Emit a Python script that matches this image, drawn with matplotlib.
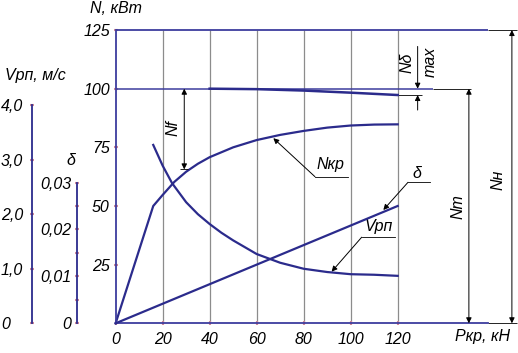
import numpy as np
import matplotlib.pyplot as plt

# Traction characteristic, values
# drawbar power N_kr, kW
p_kp = [0, 16, 20, 25, 30, 35, 40, 50, 60, 70, 80, 90, 100, 110, 120]
n_kp = [0, 50.0, 54.7, 60.3, 64.6, 68.0, 70.8, 75.0, 78.1, 80.3, 82.0, 83.4, 84.3, 84.7, 84.8]

# working speed V_rp, m/s
p_v = [16, 20, 24, 30, 35, 40, 45, 50, 60, 70, 80, 90, 100, 110, 120]
v_rp = [3.27, 2.89, 2.57, 2.22, 2.00, 1.82, 1.66, 1.52, 1.27, 1.11, 1.00, 0.94, 0.90, 0.89, 0.87]

# slip
p_d = [0, 120]
delta = [0, 0.025]

# engine power at the drive, kW
p_t = [40, 60, 80, 100, 120]
n_t = [100, 99.8, 99.2, 98.3, 97.3]

x_ticks = [0, 20, 40, 60, 80, 100, 120]
n_ticks = [25, 50, 75, 100, 125]
v_ticks = [0, 1, 2, 3, 4]
v_labels = ['0', '1,0', '2,0', '3,0', '4,0']
d_ticks = [0, 0.01, 0.02, 0.03]
d_labels = ['0', '0,01', '0,02', '0,03']
d_minor = [0.005, 0.015, 0.025]

n_nom = 125
n_max = 100

v_scale = 23.25   # N units per 1 m/s on the sheet
d_scale = 2000    # N units per unit of slip

plt.rcParams['font.family'] = ['Liberation Sans Narrow', 'Liberation Sans', 'DejaVu Sans']
plt.rcParams['font.style'] = 'italic'
plt.rcParams['font.size'] = 11.5

navy = '#2b2b8c'
axc = '#3d3d9e'
grey = '#8c8c8c'
tick_c = '#d08a9a'

fig = plt.figure(figsize=(5.18, 3.53), dpi=100)
ax = fig.add_axes([0, 0, 1, 1])
xlim = (-49.2, 171.2)
ylim = (-12.66, 137.8)
ax.set_xlim(xlim)
ax.set_ylim(ylim)
ax.patch.set_visible(False)

for s in ['top', 'right']:
    ax.spines[s].set_visible(False)
ax.spines['left'].set_position(('data', 0))
ax.spines['left'].set_bounds(0, n_nom)
ax.spines['bottom'].set_position(('data', 0))
ax.spines['bottom'].set_bounds(0, 158.4)
for s in ['left', 'bottom']:
    ax.spines[s].set_color(axc)
    ax.spines[s].set_linewidth(1.3)

ax.set_xticks(x_ticks)
ax.set_xticklabels([str(x) for x in x_ticks])
ax.set_yticks(n_ticks)
ax.set_yticklabels([str(n) for n in n_ticks])
ax.tick_params(axis='both', length=2.5, width=1.5, color=tick_c, direction='inout')
ax.tick_params(axis='x', pad=5)
ax.tick_params(axis='y', pad=3)

# speed scale
ax_v = ax.twinx()
ax_v.set_ylim(ylim[0] / v_scale, ylim[1] / v_scale)
for s in ['top', 'right', 'bottom']:
    ax_v.spines[s].set_visible(False)
ax_v.spines['left'].set_position(('data', -35.6))
ax_v.spines['left'].set_bounds(0, 4)
ax_v.spines['left'].set_color(navy)
ax_v.spines['left'].set_linewidth(1.3)
ax_v.yaxis.tick_left()
ax_v.set_yticks(v_ticks)
ax_v.set_yticklabels(v_labels)
ax_v.tick_params(axis='y', length=2.5, width=1.5, color=tick_c, direction='inout', pad=21)
plt.setp(ax_v.get_yticklabels(), ha='left')

# slip scale
ax_d = ax.twinx()
ax_d.set_ylim(ylim[0] / d_scale, ylim[1] / d_scale)
for s in ['top', 'right', 'bottom']:
    ax_d.spines[s].set_visible(False)
ax_d.spines['left'].set_position(('data', -16.5))
ax_d.spines['left'].set_bounds(0, 0.03)
ax_d.spines['left'].set_color(navy)
ax_d.spines['left'].set_linewidth(1.3)
ax_d.yaxis.tick_left()
ax_d.set_yticks(d_ticks)
ax_d.set_yticklabels(d_labels)
ax_d.set_yticks(d_minor, minor=True)
ax_d.tick_params(axis='y', which='both', length=2.5, width=1.5, color=tick_c, direction='inout', pad=3)

# grid and frame lines
ax.vlines(x_ticks[1:], 0, n_nom, color=grey, lw=0.9, zorder=1)
ax.hlines(n_nom, 0, 158.4, color=axc, lw=1.3)
ax.hlines(n_nom, 158.4, 170.6, color='k', lw=0.6)
ax.hlines(n_max, 0, 135, color=axc, lw=1.1)
ax.hlines(n_max, 135, 151.2, color='k', lw=0.6)
ax.hlines(0, 158.4, 170.6, color='k', lw=0.6)
ax.hlines(n_t[-1], p_t[-1], 130.2, color='k', lw=0.6)

# curves
ax.plot(p_kp, n_kp, color=navy, lw=1.6)
ax.plot(p_t, n_t, color=navy, lw=1.8)
ax_v.plot(p_v, v_rp, color=navy, lw=1.6)
ax_d.plot(p_d, delta, color=navy, lw=1.6)

arr = dict(color='k', lw=0.7, mutation_scale=8, shrinkA=0, shrinkB=0)

def dim(x, y0, y1, style='<|-|>'):
    ax.annotate('', xy=(x, y1), xytext=(x, y0), arrowprops=dict(arrowstyle=style, **arr))

dim(150.3, 0, n_max)
dim(168.6, 0, n_nom)
dim(29.2, n_max, 65.6)
ax.hlines(65.6, 27.4, 30.8, color='k', lw=0.6)
dim(128.5, 118, n_max, '-|>')
dim(128.5, 90.9, n_t[-1], '-|>')

ax.text(24.4, 83.2, 'Nf', rotation=90, ha='center', va='center')
ax.text(145.8, 49.7, 'Nт', rotation=90, ha='center', va='center')
ax.text(162.7, 61.1, 'Nн', rotation=90, ha='center', va='center')
ax.text(124.1, 111, 'Nδ', rotation=90, ha='center', va='center')
ax.text(133.7, 111.5, 'max', rotation=90, ha='center', va='center')

# leaders
def leader(tip, start, end_x, label, lab_xy):
    ax.annotate('', xy=tip, xytext=start, arrowprops=dict(arrowstyle='-|>', **arr))
    ax.plot([start[0], end_x], [start[1], start[1]], color='k', lw=0.6)
    ax.text(lab_xy[0], lab_xy[1], label, ha='center', va='center')

leader((67.1, 78.9), (84.8, 62.5), 98.8, 'Nкр', (91.4, 67.5))
leader((113.9, 48.3), (124.4, 60.1), 133.8, 'δ', (128.0, 63.9))
leader((91.9, 22.0), (104.7, 36.7), 118.9, 'Vрп', (112.0, 41.2))

# axis titles
ax.text(-10.9, 134.2, 'N, кВт', ha='left', va='center')
ax.text(144.4, -5.8, 'Ркр, кН', ha='left', va='center')
ax.text(-47.1, 105.8, 'Vрп, м/с', ha='left', va='center')
ax.text(-19.0, 69.6, 'δ', ha='center', va='center')

fig.savefig('out.png', dpi=100)
